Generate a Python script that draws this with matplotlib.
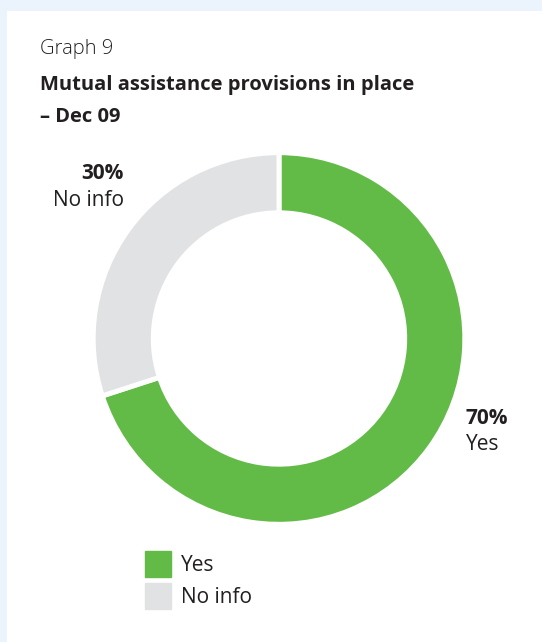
import matplotlib
matplotlib.use("Agg")
import matplotlib.pyplot as plt
from matplotlib.patches import Rectangle
from matplotlib.lines import Line2D

categories = ["Yes", "No info"]
values = [70, 30]
colors = ["#63bb47", "#e1e2e4"]
subtitle = "Graph 9"
title = "Mutual assistance provisions in place\n– Dec 09"

plt.rcParams['font.family'] = ['Open Sans', 'DejaVu Sans']
W, H = 542, 642
fig = plt.figure(figsize=(W/100, H/100), dpi=100, facecolor="#ebf3fc")
fig.patches.append(Rectangle((7/W, 0), 1, (H-11)/H, transform=fig.transFigure,
                             facecolor="white", edgecolor="none", zorder=-5))

def fx(px): return px / W
def fy(py): return 1 - py / H

cx, cy, r = 279, 338.5, 184
ax = fig.add_axes([fx(cx - r), fy(cy + r), 2*r/W, 2*r/H], zorder=2)
ax.set_facecolor("none")
ax.pie(values, colors=colors, startangle=90, counterclock=False, radius=1.01,
       wedgeprops=dict(width=0.327, edgecolor="white", linewidth=3.6))
ax.set_xlim(-1.0, 1.0); ax.set_ylim(-1.0, 1.0)
ax.set_aspect("equal"); ax.axis("off")

txt = "#231f20"
fs = 15
fig.text(fx(40), fy(49), subtitle, fontsize=14.5, fontweight="light", color=txt, va="center")
fig.text(fx(40), fy(101), title, fontsize=14.5, fontweight="bold", color=txt, va="center",
         linespacing=1.75)

fig.text(fx(124), fy(174), f"{values[1]}%", fontsize=fs, fontweight="bold", color=txt,
         ha="right", va="center")
fig.text(fx(124), fy(200), categories[1], fontsize=fs, color=txt, ha="right", va="center")
fig.text(fx(466), fy(419), f"{values[0]}%", fontsize=fs, fontweight="bold", color=txt,
         ha="left", va="center")
fig.text(fx(466), fy(445), categories[0], fontsize=fs, color=txt, ha="left", va="center")

handles = [Line2D([], [], marker="s", linestyle="none", markersize=18.5,
                  markerfacecolor=c, markeredgecolor=c) for c in colors]
leg = fig.legend(handles, categories, loc="upper left", bbox_to_anchor=(fx(145), fy(555)),
                 frameon=False, fontsize=fs, handlelength=1.2, handletextpad=0.55,
                 labelspacing=0.55, borderpad=0, borderaxespad=0, labelcolor=txt)

fig.savefig("out.png", dpi=100, facecolor=fig.get_facecolor())
